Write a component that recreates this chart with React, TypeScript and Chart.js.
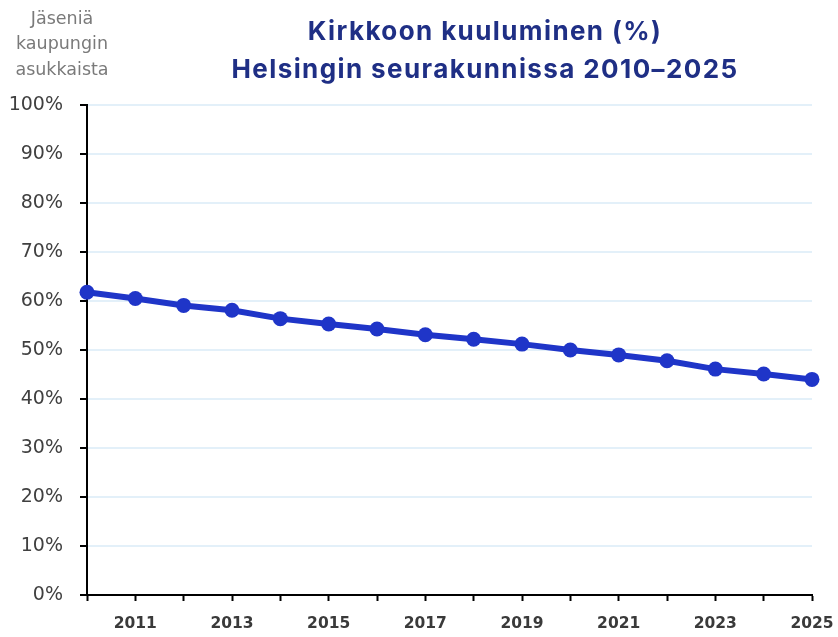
import React, { useEffect, useRef } from "react";
import { Chart, registerables } from "chart.js";

Chart.register(...registerables);

const years = [2010, 2011, 2012, 2013, 2014, 2015, 2016, 2017, 2018, 2019, 2020, 2021, 2022, 2023, 2024, 2025];
const membershipPct = [61.8, 60.5, 59.1, 58.1, 56.4, 55.3, 54.3, 53.1, 52.2, 51.2, 50.0, 49.0, 47.8, 46.1, 45.1, 44.0];
const titleLines = ["Kirkkoon kuuluminen (%)", "Helsingin seurakunnissa 2010–2025"];
const axisNoteLines = ["Jäseniä", "kaupungin", "asukkaista"];

const textPlugin = {
  id: "textPlugin",
  afterDraw(chart: any) {
    const ctx = chart.ctx;
    ctx.save();
    ctx.textAlign = "center";
    ctx.textBaseline = "middle";
    ctx.fillStyle = "#1f2f85";
    ctx.font = "bold 26px Inter, sans-serif";
    (ctx as any).letterSpacing = "1.4px";
    ctx.fillText(titleLines[0], 485, 32);
    ctx.fillText(titleLines[1], 485, 70);
    (ctx as any).letterSpacing = "0px";
    ctx.fillStyle = "#7a7a7a";
    ctx.font = "17.5px 'DejaVu Sans', sans-serif";
    axisNoteLines.forEach((t, i) => ctx.fillText(t, 62, 19 + i * 25.5));
    ctx.restore();
  },
};

export default function App() {
  const ref = useRef<HTMLCanvasElement>(null);
  useEffect(() => {
    const chart = new Chart(ref.current!, {
      type: "line",
      data: {
        datasets: [
          {
            data: years.map((y, i) => ({ x: y, y: membershipPct[i] })),
            borderColor: "#1f35c8",
            backgroundColor: "#1f35c8",
            borderWidth: 6,
            pointRadius: 7.5,
            pointBorderWidth: 0,
            clip: false as any,
          },
        ],
      },
      options: {
        animation: false,
        responsive: true,
        maintainAspectRatio: false,
        layout: { padding: { top: 105, right: 26, left: 0, bottom: 0 } },
        plugins: { legend: { display: false }, tooltip: { enabled: false } },
        scales: {
          x: {
            type: "linear",
            min: 2010,
            max: 2025,
            afterFit: (s: any) => { s.height = 42; s.paddingLeft = 0; s.paddingRight = 0; },
            afterBuildTicks: (s: any) => { s.ticks = years.map((v) => ({ value: v })); },
            ticks: {
              stepSize: 1,
              autoSkip: false,
              maxRotation: 0,
              padding: 14,
              color: "#3a3a3a",
              font: { family: "'DejaVu Sans', sans-serif", size: 15.5, weight: "bold" },
              callback: (v: any) => (Number(v) % 2 === 1 ? String(v) : ""),
            },
            grid: { drawOnChartArea: false, drawTicks: true, tickLength: 6, tickColor: "#000", tickWidth: 2 },
            border: { display: true, color: "#000", width: 2 },
          },
          y: {
            min: 0,
            max: 100,
            afterFit: (s: any) => { s.width = 87; s.paddingTop = 0; s.paddingBottom = 0; },
            ticks: {
              stepSize: 10,
              padding: 17,
              color: "#404040",
              font: { family: "'DejaVu Sans', sans-serif", size: 19 },
              callback: (v: any) => v + "%",
            },
            grid: { color: "#e3f0f9", lineWidth: 2, drawTicks: true, tickLength: 7, tickColor: "#000", tickWidth: 2 },
            border: { display: true, color: "#000", width: 2 },
          },
        },
      },
      plugins: [textPlugin],
    });
    return () => chart.destroy();
  }, []);
  return (
    <div style={{ position: "fixed", left: 0, top: 0, width: 838, height: 637, background: "#fff" }}>
      <canvas ref={ref} />
    </div>
  );
}
